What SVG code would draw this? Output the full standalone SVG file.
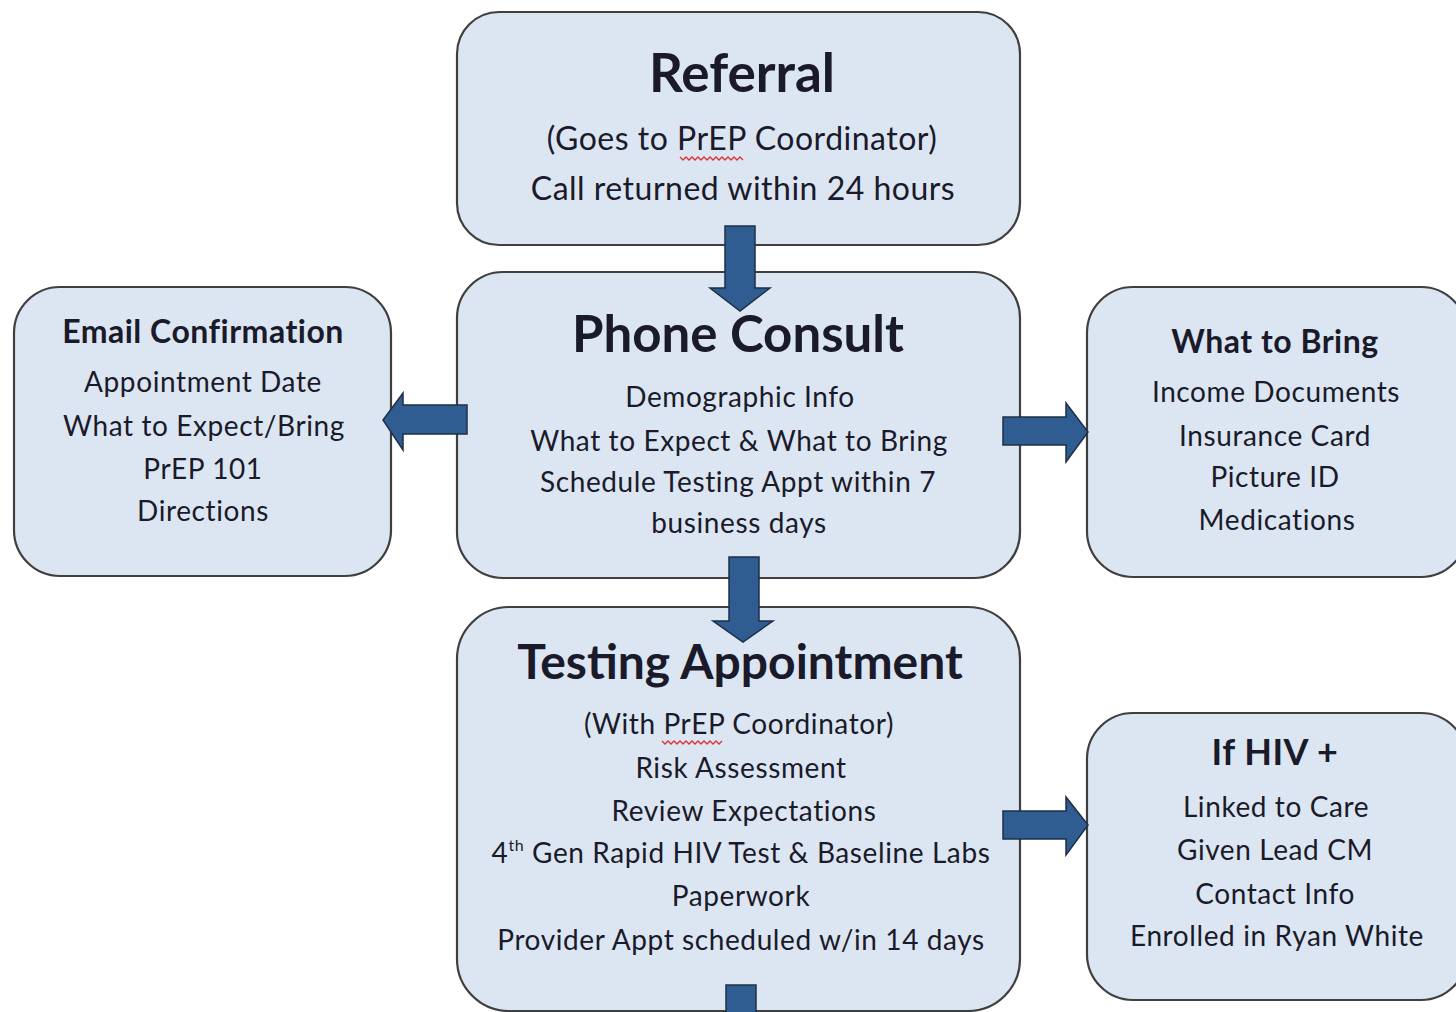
<svg xmlns="http://www.w3.org/2000/svg" width="1456" height="1012" viewBox="0 0 1456 1012">
<style>
.box{fill:#dce6f2;stroke:#3f3f3f;stroke-width:2.2}
.arr{fill:#2f5c91;stroke:#1e2f45;stroke-width:1.5;stroke-linejoin:miter}
text{font-family:Lato,"Liberation Sans",sans-serif;fill:#1a1a2a;text-anchor:middle}
.h1{font-size:50px;font-weight:bold}
.h2{font-size:32px;font-weight:bold;letter-spacing:0.5px}
.t1{font-size:32px;letter-spacing:0.5px}
.t2{font-size:28px;letter-spacing:0.6px}
.sq{fill:none;stroke:#e03030;stroke-width:1.3}
</style>
<rect width="1456" height="1012" fill="#ffffff"/>
<g id="referral">
<rect class="box" x="457" y="12" width="563" height="233" rx="42"/>
<text class="h1" x="742" y="92" style="font-size:53px">Referral</text>
<text class="t1" x="742" y="150">(Goes to PrEP Coordinator)</text>
<path class="sq" d="M680,157 l3,3 3,-3 3,3 3,-3 3,3 3,-3 3,3 3,-3 3,3 3,-3 3,3 3,-3 3,3 3,-3 3,3 3,-3 3,3 3,-3 3,3 3,-3 3,3"/>
<text class="t1" x="743" y="200">Call returned within 24 hours</text>
</g>
<g id="phone-consult">
<rect class="box" x="457" y="272" width="563" height="306" rx="46"/>
<text class="h1" x="738" y="352" style="font-size:51px">Phone Consult</text>
<text class="t2" x="740" y="407">Demographic Info</text>
<text class="t2" x="739" y="451">What to Expect &amp; What to Bring</text>
<text class="t2" x="738" y="492">Schedule Testing Appt within 7</text>
<text class="t2" x="739" y="533">business days</text>
</g>
<g id="email-confirmation">
<rect class="box" x="14" y="287" width="377" height="289" rx="46"/>
<text class="h2" x="203" y="343">Email Confirmation</text>
<text class="t2" x="203" y="392">Appointment Date</text>
<text class="t2" x="204" y="436">What to Expect/Bring</text>
<text class="t2" x="203" y="479">PrEP 101</text>
<text class="t2" x="203" y="521">Directions</text>
</g>
<g id="what-to-bring">
<rect class="box" x="1087" y="287" width="380" height="290" rx="46"/>
<text class="h2" x="1275" y="353">What to Bring</text>
<text class="t2" x="1276" y="402">Income Documents</text>
<text class="t2" x="1275" y="446">Insurance Card</text>
<text class="t2" x="1275" y="487">Picture ID</text>
<text class="t2" x="1277" y="530">Medications</text>
</g>
<g id="testing-appointment">
<rect class="box" x="457" y="607" width="563" height="404" rx="52"/>
<text class="h1" x="740" y="679" style="font-size:48px">Testing Appointment</text>
<text class="t2" x="739" y="734">(With PrEP Coordinator)</text>
<path class="sq" d="M662,741 l3,3 3,-3 3,3 3,-3 3,3 3,-3 3,3 3,-3 3,3 3,-3 3,3 3,-3 3,3 3,-3 3,3 3,-3 3,3 3,-3 3,3 3,-3"/>
<text class="t2" x="741" y="778">Risk Assessment</text>
<text class="t2" x="744" y="821">Review Expectations</text>
<text class="t2" x="741" y="863">4<tspan font-size="16" dy="-12">th</tspan><tspan dy="12"> Gen Rapid HIV Test &amp; Baseline Labs</tspan></text>
<text class="t2" x="741" y="906">Paperwork</text>
<text class="t2" x="741" y="950">Provider Appt scheduled w/in 14 days</text>
</g>
<g id="if-hiv">
<rect class="box" x="1087" y="713" width="380" height="287" rx="46"/>
<text class="h2" x="1275" y="765" style="font-size:36px">If HIV +</text>
<text class="t2" x="1276" y="817">Linked to Care</text>
<text class="t2" x="1275" y="860">Given Lead CM</text>
<text class="t2" x="1275" y="904">Contact Info</text>
<text class="t2" x="1277" y="946">Enrolled in Ryan White</text>
</g>
<g id="connectors">
<path class="arr" d="M725,226 H755 V288 H770 L740,311 L710,288 H725 Z"/>
<path class="arr" d="M729,557 H759 V621 H773 L743,642 L713,621 H729 Z"/>
<path class="arr" d="M467,405 V434 H403 V450 L383,420 L403,393 V405 Z"/>
<path class="arr" d="M1003,417 H1066 V403 L1088,432 L1066,462 V445 H1003 Z"/>
<path class="arr" d="M1003,811 H1066 V797 L1088,825 L1066,855 V839 H1003 Z"/>
<path class="arr" d="M726,985 H756 V1014 H726 Z"/>
</g>
</svg>
